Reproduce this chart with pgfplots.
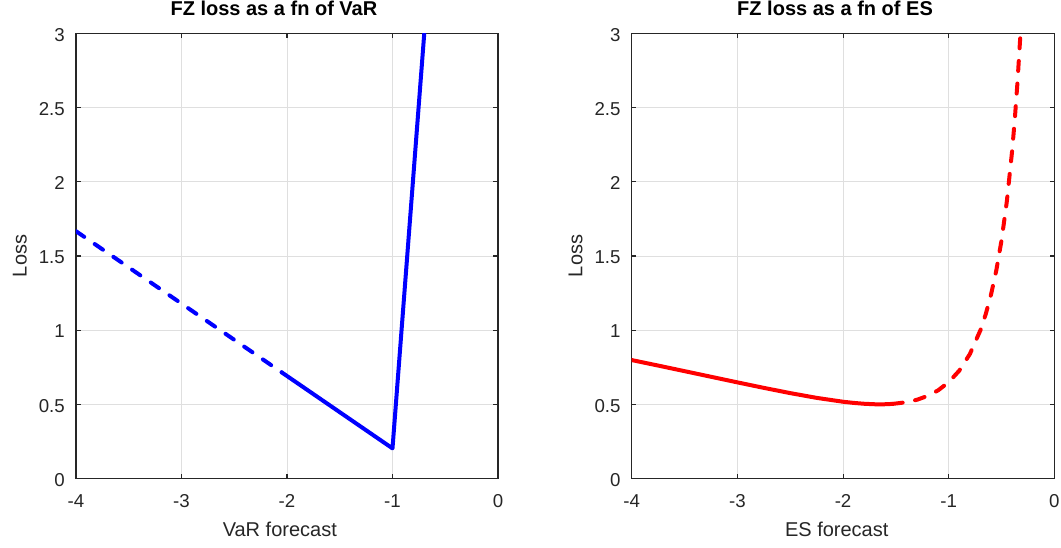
\documentclass[border=0pt]{standalone}
\usepackage{pgfplots}
\pgfplotsset{compat=1.18}
\usepackage{fontspec}
\setmainfont{Liberation Sans}

\definecolor{axgray}{HTML}{262626}
\definecolor{gridgray}{HTML}{DFDFDF}
\definecolor{mblue}{RGB}{0,0,255}
\definecolor{mred}{RGB}{255,0,0}

% FZ loss as a function of VaR (dashed where VaR < ES)
\pgfplotstableread{
x y
-4.00 1.667
-2.05 0.716
}\varbad
\pgfplotstableread{
x y
-2.05 0.716
-1.00 0.204
0.00 9.49
}\varok

% FZ loss as a function of ES
\pgfplotstableread{
x y
-4.00 0.7988
-3.75 0.7618
-3.50 0.7242
-3.25 0.6864
-3.00 0.6486
-2.75 0.6116
-2.50 0.5763
-2.25 0.5442
-2.00 0.5181
-1.90 0.5103
-1.80 0.5045
-1.70 0.5012
-1.65 0.5008
-1.60 0.5013
-1.53 0.5037
}\esok
\pgfplotstableread{
x y
-1.53 0.5037
-1.40 0.5151
-1.30 0.5316
-1.20 0.5573
-1.10 0.5953
-1.00 0.6500
-0.90 0.7279
-0.80 0.8394
-0.70 1.0004
-0.65 1.1077
-0.60 1.2392
-0.55 1.4022
-0.50 1.6069
-0.45 1.8682
-0.40 2.2087
-0.375 2.4192
-0.35 2.6645
-0.325 2.9530
-0.32 3.0169
-0.30 3.2960
}\esbad

\pgfplotsset{
  fzstyle/.style={
    scale only axis,
    width=316.5pt, height=334pt,
    xmin=-4, xmax=0, ymin=0, ymax=3,
    xtick={-4,-3,-2,-1,0},
    ytick={0,0.5,1,1.5,2,2.5,3},
    grid=major,
    major grid style={gridgray, line width=0.7pt},
    axis line style={axgray, line width=0.8pt},
    every tick/.style={axgray, line width=0.8pt},
    major tick length=3.5pt,
    tick align=inside,
    /pgf/number format/assume math mode=true,
    tick label style={font=\fontsize{14}{16}\selectfont, text=axgray, inner sep=0pt},
    xticklabel style={anchor=base, yshift=-21.75pt},
    yticklabel style={anchor=east, xshift=-8.25pt, yshift=-1pt},
    label style={font=\fontsize{15}{18}\selectfont, text=axgray, inner sep=0pt},
    ylabel style={at={(axis description cs:-0.1169,0.5)}, anchor=base},
    title style={font=\bfseries\fontsize{15}{18}\selectfont, inner sep=0pt, anchor=base},
    ylabel={Loss},
  },
  solidline/.style={line width=3pt, line join=round, line cap=round},
  dashline/.style={line width=3pt, line join=round, line cap=round, dash pattern=on 7.5pt off 9.5pt},
}

\begin{document}
\begin{tikzpicture}
\useasboundingbox (0,0) rectangle (795.75pt,411pt);

\begin{axis}[fzstyle, at={(57pt,52pt)}, anchor=south west,
  xlabel={VaR forecast},
  xlabel style={at={(axis description cs:0.483,-0.1309)}, anchor=base},
  title={FZ loss as a fn of VaR},
  title style={at={(axis description cs:0.469,1.021)}},
]
  \addplot[mblue, dashline] table[x=x, y=y]{\varbad};
  \addplot[mblue, solidline] table[x=x, y=y]{\varok};
\end{axis}

\begin{axis}[fzstyle, at={(473.8pt,52pt)}, anchor=south west,
  width=317pt,
  xlabel={ES forecast},
  xlabel style={at={(axis description cs:0.485,-0.1309)}, anchor=base},
  title={FZ loss as a fn of ES},
  title style={at={(axis description cs:0.481,1.021)}},
]
  \addplot[mred, solidline] table[x=x, y=y]{\esok};
  \addplot[mred, dashline] table[x=x, y=y]{\esbad};
\end{axis}
\end{tikzpicture}
\end{document}
